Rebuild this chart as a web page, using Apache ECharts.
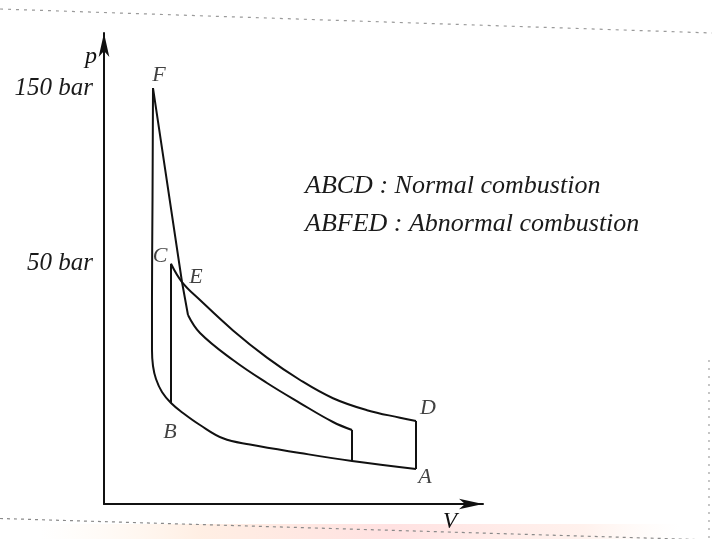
<!DOCTYPE html>
<html>
<head>
<meta charset="utf-8">
<script src="https://cdn.jsdelivr.net/npm/echarts@6/dist/echarts.min.js"></script>
<style>
  html, body { margin: 0; padding: 0; background: #fff; }
  #chart { width: 712px; height: 539px; }
</style>
</head>
<body>
<div id="chart"></div>
<script>
// p–V diagram of a spark-ignition engine: normal (ABCD) vs abnormal (ABFED) combustion.
// V and p are schematic diagram units (0–100 along each axis).

const P150 = 88.3;   // height of the 150 bar level
const P50 = 51.0;    // height of the 50 bar level
const pTickValues = [P50, P150];
const pTickLabels = ['50 bar', '150 bar'];

// Compression: A -> B, then up the steep branch to F
const compressionV = [82.32, 65.44, 51.72, 38.52, 31.40, 25.33, 20.84, 17.68, 15.30, 13.72, 12.93, 12.66, 12.66, 12.80, 12.93];
const compressionP = [7.43, 9.13, 10.83, 12.63, 13.95, 16.77, 19.32, 21.44, 23.78, 26.54, 29.30, 32.70, 43.31, 64.54, P150];

// Normal combustion: constant-volume rise B -> C
const riseV = [17.68, 17.68];
const riseP = [21.44, P50];

// Normal expansion C -> E -> D
const expansionV = [17.68, 20.58, 25.33, 34.04, 43.01, 51.72, 60.42, 69.39, 78.10, 82.32];
const expansionP = [P50, 47.13, 43.31, 36.86, 31.08, 26.33, 22.46, 19.92, 18.32, 17.62];

// Exhaust blow-down D -> A
const blowdownV = [82.32, 82.32];
const blowdownP = [17.62, 7.43];

// Abnormal combustion: steep drop F -> E
const knockDropV = [12.93, 20.58, 22.16];
const knockDropP = [P150, 47.13, 40.13];

// Abnormal expansion after E, then release back to the compression line
const knockExpV = [22.16, 25.33, 34.04, 43.01, 51.72, 60.42, 65.44];
const knockExpP = [40.13, 36.31, 30.57, 25.69, 21.44, 17.41, 15.71];
const knockReleaseV = [65.44, 65.44];
const knockReleaseP = [15.71, 9.13];

// State point labels
const pointNames = ['A', 'B', 'C', 'D', 'E', 'F'];
const pointV = [82.32, 17.68, 17.68, 82.32, 20.58, 12.93];
const pointP = [7.43, 21.44, P50, 17.62, 47.13, P150];
const pointLabelOffset = [[9, 8], [-1, 29], [-11, -8], [12, -13], [14, -5], [6, -13]];

const legendLines = ['ABCD : Normal combustion', 'ABFED : Abnormal combustion'];

const zip = (xs, ys) => xs.map((x, i) => [x, ys[i]]);

const SERIF = '"Liberation Serif", "DejaVu Serif", serif';
const INK = '#111';

const lineSeries = (data, smooth) => ({
  type: 'line',
  data: data,
  smooth: smooth,
  symbol: 'none',
  silent: true,
  lineStyle: { color: INK, width: 2 },
  z: 3
});

const chart = echarts.init(document.getElementById('chart'), null, { renderer: 'canvas' });

chart.setOption({
  backgroundColor: '#fff',
  animation: false,
  grid: { left: 104, top: 33, width: 379, height: 471, containLabel: false },
  xAxis: {
    type: 'value',
    min: 0,
    max: 100,
    name: 'V',
    nameLocation: 'end',
    nameGap: -33,
    nameTextStyle: {
      fontFamily: SERIF, fontStyle: 'italic', fontSize: 23, color: INK,
      align: 'center', verticalAlign: 'top', padding: [6, 0, 0, 0]
    },
    axisLine: {
      show: true,
      lineStyle: { color: INK, width: 2 },
      symbol: ['none', 'arrow'],
      symbolSize: [8, 24]
    },
    axisTick: { show: false },
    axisLabel: { show: false },
    splitLine: { show: false }
  },
  yAxis: {
    type: 'value',
    min: 0,
    max: 100,
    name: 'p',
    nameLocation: 'end',
    nameGap: -24,
    nameTextStyle: {
      fontFamily: SERIF, fontStyle: 'italic', fontSize: 24, color: INK,
      align: 'right', verticalAlign: 'middle', padding: [0, 7, 0, 0]
    },
    axisLine: {
      show: true,
      lineStyle: { color: INK, width: 2 },
      symbol: ['none', 'arrow'],
      symbolSize: [8, 24]
    },
    axisTick: { show: false },
    axisLabel: {
      show: true,
      customValues: pTickValues,
      formatter: (v) => pTickLabels[pTickValues.indexOf(v)] || '',
      fontFamily: SERIF,
      fontStyle: 'italic',
      fontSize: 25,
      color: '#1a1a1a',
      margin: 11,
      padding: [0, 0, 15, 0]
    },
    splitLine: { show: false }
  },
  series: [
    lineSeries(zip(compressionV, compressionP), 0.4),
    lineSeries(zip(riseV, riseP), false),
    lineSeries(zip(expansionV, expansionP), 0.4),
    lineSeries(zip(blowdownV, blowdownP), false),
    lineSeries(zip(knockDropV, knockDropP), false),
    lineSeries(zip(knockExpV, knockExpP), 0.4),
    lineSeries(zip(knockReleaseV, knockReleaseP), false),
    {
      type: 'scatter',
      silent: true,
      symbolSize: 0,
      data: pointNames.map((n, i) => ({
        name: n,
        value: [pointV[i], pointP[i]],
        label: { offset: pointLabelOffset[i] }
      })),
      label: {
        show: true,
        position: 'inside',
        formatter: (p) => p.name,
        fontFamily: SERIF,
        fontStyle: 'italic',
        fontSize: 22,
        color: INK
      },
      z: 4
    }
  ],
  graphic: [
    // scan edges and page marks
    {
      type: 'line', silent: true, z: 0,
      shape: { x1: 0, y1: 9, x2: 712, y2: 33 },
      style: { stroke: '#9a9a9a', lineWidth: 1.2, lineDash: [3, 5] }
    },
    {
      type: 'rect', silent: true, z: 0,
      shape: { x: 40, y: 524, width: 640, height: 15 },
      style: {
        fill: new echarts.graphic.LinearGradient(0, 0, 1, 0, [
          { offset: 0, color: 'rgba(255,240,220,0)' },
          { offset: 0.25, color: 'rgba(255,225,205,0.55)' },
          { offset: 0.55, color: 'rgba(255,205,205,0.6)' },
          { offset: 0.85, color: 'rgba(255,225,215,0.45)' },
          { offset: 1, color: 'rgba(255,240,230,0)' }
        ])
      }
    },
    {
      type: 'line', silent: true, z: 0,
      shape: { x1: 0, y1: 518.5, x2: 712, y2: 540 },
      style: { stroke: '#8a8a8a', lineWidth: 1.2, lineDash: [3, 4] }
    },
    {
      type: 'line', silent: true, z: 0,
      shape: { x1: 709, y1: 360, x2: 709, y2: 539 },
      style: { stroke: '#a0a0a0', lineWidth: 1.2, lineDash: [2, 6] }
    },
    // cycle key
    {
      type: 'text', silent: true, left: 305, top: 173,
      style: {
        text: legendLines[0], fill: '#1a1a1a',
        font: 'italic 26px ' + SERIF
      }
    },
    {
      type: 'text', silent: true, left: 305, top: 211,
      style: {
        text: legendLines[1], fill: '#1a1a1a',
        font: 'italic 26px ' + SERIF
      }
    }
  ]
});
</script>
</body>
</html>
